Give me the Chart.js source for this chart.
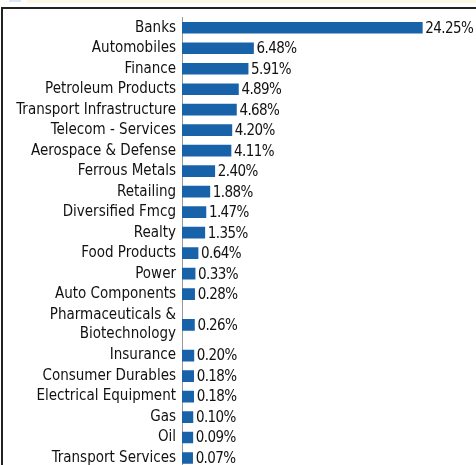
<!DOCTYPE html>
<html>
<head>
<meta charset="utf-8">
<script src="https://cdn.jsdelivr.net/npm/chart.js@4.4.1/dist/chart.umd.min.js"></script>
<style>
  html, body { margin: 0; padding: 0; background: #fff; overflow: hidden; }
  #wrap { position: relative; width: 476px; height: 465px; }
  #strip { position: absolute; left: 27px; top: 0; width: 449px; height: 3px; background: #fdf8e4; }
  #tab { position: absolute; left: 9px; top: 0; width: 12px; height: 2px; background: #dde7f4; }
  #frame { position: absolute; left: 1px; top: 7px; right: 0; bottom: 0;
           border-top: 2px solid #222; border-left: 2px solid #222; }
  #chart { position: absolute; left: 0; top: 0; }
</style>
</head>
<body>
<div id="wrap">
  <div id="strip"></div>
  <div id="tab"></div>
  <div id="frame"></div>
  <canvas id="chart" width="476" height="465"></canvas>
</div>
<script>
// sectores y pesos (%)
const sectores = [
  "Banks", "Automobiles", "Finance", "Petroleum Products", "Transport Infrastructure",
  "Telecom - Services", "Aerospace & Defense", "Ferrous Metals", "Retailing",
  "Diversified Fmcg", "Realty", "Food Products", "Power", "Auto Components",
  ["Pharmaceuticals &", "Biotechnology"], "Insurance", "Consumer Durables",
  "Electrical Equipment", "Gas", "Oil", "Transport Services"
];
const pesos = [
  24.25, 6.48, 5.91, 4.89, 4.68, 4.20, 4.11, 2.40, 1.88, 1.47, 1.35,
  0.64, 0.33, 0.28, 0.26, 0.20, 0.18, 0.18, 0.10, 0.09, 0.07
];

// posicion de cada fila segun las lineas de su etiqueta
const filas = [];
let acum = 0;
sectores.forEach(s => {
  const lineas = Array.isArray(s) ? 2 : 1;
  filas.push(acum + lineas / 2);
  acum += lineas;
});

const X_MIN = -1.05;
const FUENTE = "'Liberation Sans Narrow', 'Arial Narrow', 'DejaVu Sans Condensed', sans-serif";

// etiquetas de valor al final de cada barra
const etiquetasValor = {
  id: "etiquetasValor",
  afterDatasetsDraw(chart) {
    const ctx = chart.ctx;
    const meta = chart.getDatasetMeta(0);
    ctx.save();
    ctx.font = "15px " + FUENTE;
    ctx.letterSpacing = "-0.6px";
    ctx.fillStyle = "#111";
    ctx.textAlign = "left";
    ctx.textBaseline = "middle";
    meta.data.forEach((bar, i) => {
      ctx.fillText(pesos[i].toFixed(2) + "%", bar.x + 3, bar.y + 1);
    });
    ctx.restore();
  }
};

new Chart(document.getElementById("chart"), {
  type: "bar",
  data: {
    datasets: [{
      data: pesos.map((v, i) => ({ x: v, y: filas[i] })),
      backgroundColor: "#1862aa",
      borderWidth: 0,
      barThickness: 11,
      base: X_MIN
    }]
  },
  options: {
    indexAxis: "y",
    responsive: false,
    animation: false,
    devicePixelRatio: 1,
    layout: { padding: { top: 17.5, right: 0, bottom: 0, left: 0 } },
    plugins: { legend: { display: false }, tooltip: { enabled: false } },
    scales: {
      x: {
        type: "linear",
        display: false,
        min: X_MIN,
        max: 29.9
      },
      y: {
        type: "linear",
        reverse: true,
        offset: false,
        min: 0,
        max: 21.84,
        afterBuildTicks: scale => {
          scale.ticks = filas.map(f => ({ value: f }));
        },
        afterFit: scale => {
          scale.width = 182;
          scale.paddingTop = 0;
          scale.paddingBottom = 0;
        },
        grid: { display: false, drawTicks: false },
        border: { display: true, color: "#9a9a9a", width: 1 },
        ticks: {
          autoSkip: false,
          padding: 6,
          color: "#111",
          font: { size: 15, family: FUENTE, lineHeight: 1.25 },
          callback: (value, index) => sectores[index]
        }
      }
    }
  },
  plugins: [etiquetasValor]
});
</script>
</body>
</html>
